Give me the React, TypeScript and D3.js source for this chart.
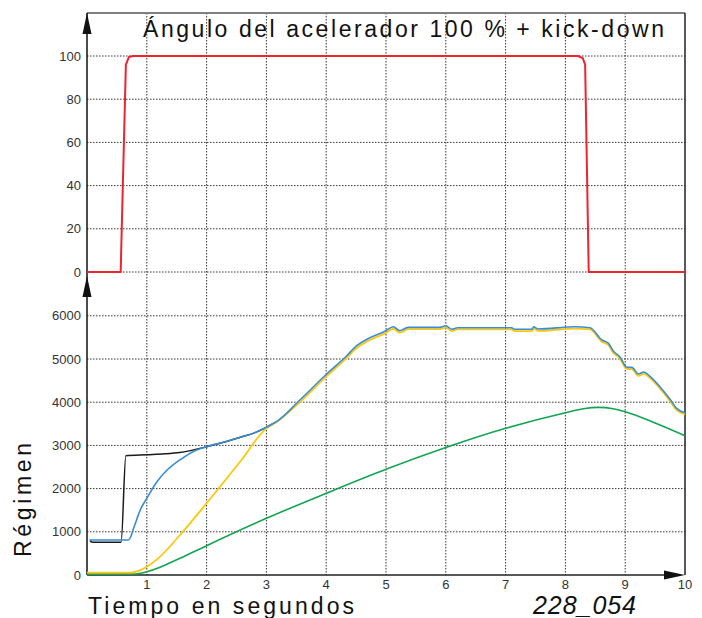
import React from "react";
import * as d3 from "d3";

// ---- Data ----
const throttleT = [0, 0.563, 0.65, 0.7, 0.77, 8.21, 8.29, 8.33, 8.39, 10];
const throttleV = [0, 0, 96, 99.5, 100, 100, 99, 96, 0, 0];

const blackT = [0.05, 0.1, 0.57, 0.65, 1.0, 1.3, 1.55, 2.0, 2.3, 2.56, 2.8, 3.0, 3.17];
const blackV = [790, 757, 757, 2762, 2785, 2805, 2836, 2970, 3080, 3187, 3290, 3419, 3549];

const blueT = [0.04, 0.69, 0.73, 0.77, 0.83, 0.89, 1.0, 1.17, 1.33, 1.44, 1.555, 1.78, 2.0, 2.3, 2.56, 2.8, 3.0, 3.17, 3.56, 3.99, 4.34, 4.51, 4.68, 4.99, 5.12, 5.23, 5.37, 5.9, 6.0, 6.1, 6.2, 7.1, 7.15, 7.44, 7.47, 7.54, 8.16, 8.41, 8.61, 8.72, 8.8, 8.91, 9.03, 9.11, 9.22, 9.31, 9.41, 9.58, 9.75, 9.86, 10];
const blueV = [810, 810, 880, 1042, 1280, 1505, 1775, 2160, 2420, 2550, 2665, 2860, 2970, 3080, 3187, 3290, 3419, 3549, 4051, 4630, 5069, 5308, 5456, 5648, 5748, 5655, 5733, 5733, 5771, 5687, 5725, 5725, 5687, 5687, 5748, 5694, 5748, 5725, 5440, 5363, 5185, 5054, 4807, 4807, 4653, 4699, 4606, 4359, 4066, 3858, 3757];

const yellowT = [0, 0.72, 0.85, 1.0, 1.19, 1.555, 2.0, 2.56, 3.0, 3.17, 3.56, 3.99, 4.34, 4.51, 4.68, 4.99, 5.12, 5.23, 5.37, 5.9, 6.0, 6.1, 6.2, 7.1, 7.15, 7.44, 7.47, 7.54, 8.16, 8.41, 8.61, 8.72, 8.8, 8.91, 9.03, 9.11, 9.22, 9.31, 9.41, 9.58, 9.75, 9.86, 10];
const yellowV = [55, 55, 90, 192, 386, 926, 1660, 2623, 3395, 3540, 4000, 4580, 5020, 5255, 5405, 5600, 5700, 5610, 5690, 5690, 5725, 5645, 5685, 5685, 5645, 5645, 5705, 5650, 5705, 5685, 5400, 5320, 5145, 5015, 4765, 4765, 4610, 4655, 4565, 4320, 4025, 3815, 3720];

const greenT = [0, 0.8, 0.9, 1.0, 1.2, 1.4, 1.555, 2.0, 3.0, 4.0, 5.0, 6.0, 7.0, 8.0, 8.3, 8.55, 8.8, 9.0, 9.5, 10];
const greenV = [20, 22, 40, 76, 170, 290, 386, 679, 1312, 1891, 2447, 2950, 3395, 3757, 3850, 3881, 3850, 3780, 3520, 3225];

const xTicks = [1, 2, 3, 4, 5, 6, 7, 8, 9, 10];
const topTicks = [0, 20, 40, 60, 80, 100];
const botTicks = [0, 1000, 2000, 3000, 4000, 5000, 6000];

const titleText = "Ángulo del acelerador 100 % + kick-down";
const yLabel = "Régimen";
const xLabel = "Tiempo en segundos";
const codeLabel = "228_054";

const FONT = "'Liberation Sans', Arial, Helvetica, sans-serif";

export default function App() {
  const x = d3.scaleLinear().domain([0, 10]).range([87, 685]);
  const yTop = d3.scaleLinear().domain([0, 100]).range([272, 56]);
  const yBot = d3.scaleLinear().domain([0, 6000]).range([575, 315.8]);

  const left = x(0);
  const right = x(10);
  const top = 13;
  const bottom = yBot(0);

  const mk = (ts: number[], vs: number[]) => ts.map((t, i) => [t, vs[i]] as [number, number]);

  const lineTop = d3.line<[number, number]>().x((d) => x(d[0])).y((d) => yTop(d[1]));
  const lineBotSmooth = d3
    .line<[number, number]>()
    .x((d) => x(d[0]))
    .y((d) => yBot(d[1]))
    .curve(d3.curveMonotoneX);

  const gridStyle = { stroke: "#333", strokeWidth: 1, strokeDasharray: "1.5 1.5" };

  return (
    <svg
      width={702}
      height={618}
      style={{ position: "absolute", left: 0, top: 0, background: "#fff" }}
      fontFamily={FONT}
    >
      <rect x={0} y={0} width={702} height={618} fill="#fff" />
      {topTicks.map((v) => (
        <line key={"gt" + v} x1={left} x2={right} y1={yTop(v)} y2={yTop(v)} {...gridStyle} />
      ))}
      {botTicks.filter((v) => v > 0).map((v) => (
        <line key={"gb" + v} x1={left} x2={right} y1={yBot(v)} y2={yBot(v)} {...gridStyle} />
      ))}
      {xTicks.filter((t) => t < 10).map((t) => (
        <line key={"gv" + t} x1={x(t)} x2={x(t)} y1={top} y2={bottom} {...gridStyle} />
      ))}

      <line x1={left} x2={right} y1={top} y2={top} stroke="#808080" strokeWidth={2} />
      <line x1={right} x2={right} y1={top} y2={bottom} stroke="#222" strokeWidth={1.5} />
      <line x1={left} x2={left} y1={top} y2={bottom} stroke="#111" strokeWidth={1.5} />
      <line x1={left} x2={right - 10} y1={bottom} y2={bottom} stroke="#222" strokeWidth={1.5} />

      <path d={`M${left},${top} L${left - 4.5},${top + 21} L${left + 4.5},${top + 21} Z`} fill="#111" />
      <path d={`M${left},276 L${left - 4.5},297 L${left + 4.5},297 Z`} fill="#111" />
      <path d={`M${right},${bottom} L${right - 21},${bottom - 4.5} L${right - 21},${bottom + 4.5} Z`} fill="#111" />

      <path d={lineTop(mk(throttleT, throttleV)) || ""} fill="none" stroke="#ee2330" strokeWidth={2} strokeLinejoin="round" />
      <path d={lineBotSmooth(mk(greenT, greenV)) || ""} fill="none" stroke="#12a550" strokeWidth={1.6} />
      <path d={lineBotSmooth(mk(blackT, blackV)) || ""} fill="none" stroke="#1a1a1a" strokeWidth={1.5} />
      <path d={lineBotSmooth(mk(yellowT, yellowV)) || ""} fill="none" stroke="#fdc80a" strokeWidth={1.8} strokeLinejoin="round" />
      <path d={lineBotSmooth(mk(blueT, blueV)) || ""} fill="none" stroke="#3a8dd2" strokeWidth={1.6} strokeLinejoin="round" />

      {topTicks.map((v) => (
        <text key={"lt" + v} x={81} y={yTop(v)} dy="0.35em" textAnchor="end" fontSize={13} fill="#333">
          {v}
        </text>
      ))}
      {botTicks.map((v) => (
        <text key={"lb" + v} x={81} y={yBot(v)} dy="0.35em" textAnchor="end" fontSize={13} fill="#333">
          {v}
        </text>
      ))}
      {xTicks.map((t) => (
        <text key={"lx" + t} x={x(t)} y={589} textAnchor="middle" fontSize={13} fill="#333">
          {t}
        </text>
      ))}

      <text x={143} y={37} fontSize={23} fill="#111" textLength={521} lengthAdjust="spacing">
        {titleText}
      </text>
      <text x={88} y={614} fontSize={23} fill="#111" textLength={266} lengthAdjust="spacing">
        {xLabel}
      </text>
      <text
        transform={`translate(31,557) rotate(-90)`}
        fontSize={23}
        fill="#111"
        textLength={114}
        lengthAdjust="spacing"
      >
        {yLabel}
      </text>
      <text x={533} y={614} fontSize={25} fontStyle="italic" fill="#111" textLength={103} lengthAdjust="spacing">
        {codeLabel}
      </text>
    </svg>
  );
}
